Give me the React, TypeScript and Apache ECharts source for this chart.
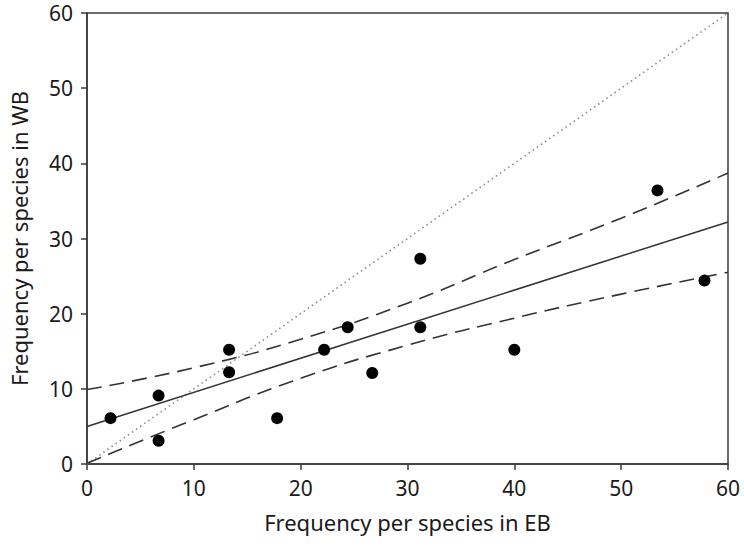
import React, { useEffect, useRef } from "react";
import * as echarts from "echarts";

const xTicks = [0, 10, 20, 30, 40, 50, 60];
const yTicks = [0, 10, 20, 30, 40, 50, 60];

const points: [number, number][] = [
  [2.2, 6.1],
  [6.7, 9.1],
  [6.7, 3.1],
  [13.3, 15.2],
  [13.3, 12.2],
  [17.8, 6.1],
  [22.2, 15.2],
  [24.4, 18.2],
  [26.7, 12.1],
  [31.2, 27.3],
  [31.2, 18.2],
  [40.0, 15.2],
  [53.4, 36.4],
  [57.8, 24.4],
];

const fitLine: [number, number][] = [
  [0, 5.0],
  [60, 32.2],
];

const upperBand: [number, number][] = [
  [0, 9.9],
  [10, 12.8],
  [20, 16.6],
  [30, 21.4],
  [40, 27.2],
  [50, 32.7],
  [60, 38.7],
];

const lowerBand: [number, number][] = [
  [0, 0.1],
  [10, 5.9],
  [20, 11.4],
  [30, 15.8],
  [40, 19.4],
  [50, 22.6],
  [60, 25.5],
];

const identityLine: [number, number][] = [
  [0, 0],
  [60, 60],
];

const FONT = "'Noto Sans', 'Open Sans', sans-serif";
const AXIS_COLOR = "#3a3a3a";
const TEXT_COLOR = "#1a1a1a";

export default function App() {
  const ref = useRef<HTMLDivElement>(null);

  useEffect(() => {
    if (!ref.current) return;
    const chart = echarts.init(ref.current, undefined, { renderer: "svg" });
    chart.setOption({
      animation: false,
      backgroundColor: "#ffffff",
      grid: {
        left: 84,
        right: 16,
        top: 13,
        bottom: 82,
        show: true,
        borderColor: AXIS_COLOR,
        borderWidth: 1.5,
        backgroundColor: "transparent",
      },
      xAxis: {
        type: "value",
        min: xTicks[0],
        max: xTicks[xTicks.length - 1],
        interval: 10,
        name: "Frequency per species in EB",
        nameLocation: "middle",
        nameGap: 47,
        nameTextStyle: { fontFamily: FONT, fontSize: 22, color: TEXT_COLOR },
        axisLine: { show: true, lineStyle: { color: AXIS_COLOR, width: 1.5 } },
        axisTick: { show: true, length: 6, lineStyle: { color: AXIS_COLOR, width: 1.5 } },
        axisLabel: { fontFamily: FONT, fontSize: 21, color: TEXT_COLOR, margin: 13 },
        splitLine: { show: false },
      },
      yAxis: {
        type: "value",
        min: yTicks[0],
        max: yTicks[yTicks.length - 1],
        interval: 10,
        name: "Frequency per species in WB",
        nameLocation: "middle",
        nameGap: 57,
        nameTextStyle: { fontFamily: FONT, fontSize: 22, color: TEXT_COLOR },
        axisLine: { show: true, lineStyle: { color: AXIS_COLOR, width: 1.5 } },
        axisTick: { show: true, length: 6, lineStyle: { color: AXIS_COLOR, width: 1.5 } },
        axisLabel: { fontFamily: FONT, fontSize: 21, color: TEXT_COLOR, margin: 14 },
        splitLine: { show: false },
      },
      series: [
        {
          type: "line",
          data: identityLine,
          symbol: "none",
          lineStyle: { color: "#8a8a8a", width: 1.6, type: [1.5, 3.5] },
          z: 1,
        },
        {
          type: "line",
          data: upperBand,
          symbol: "none",
          smooth: true,
          lineStyle: { color: "#333333", width: 1.6, type: [15, 8] },
          z: 2,
        },
        {
          type: "line",
          data: lowerBand,
          symbol: "none",
          smooth: true,
          lineStyle: { color: "#333333", width: 1.6, type: [15, 8] },
          z: 2,
        },
        {
          type: "line",
          data: fitLine,
          symbol: "none",
          lineStyle: { color: "#333333", width: 1.5 },
          z: 2,
        },
        {
          type: "scatter",
          data: points,
          symbol: "circle",
          symbolSize: 12,
          itemStyle: { color: "#000000", opacity: 1 },
          z: 3,
        },
      ],
    });
    return () => chart.dispose();
  }, []);

  return (
    <div
      ref={ref}
      style={{ position: "fixed", left: 0, top: 0, width: 744, height: 546 }}
    />
  );
}
